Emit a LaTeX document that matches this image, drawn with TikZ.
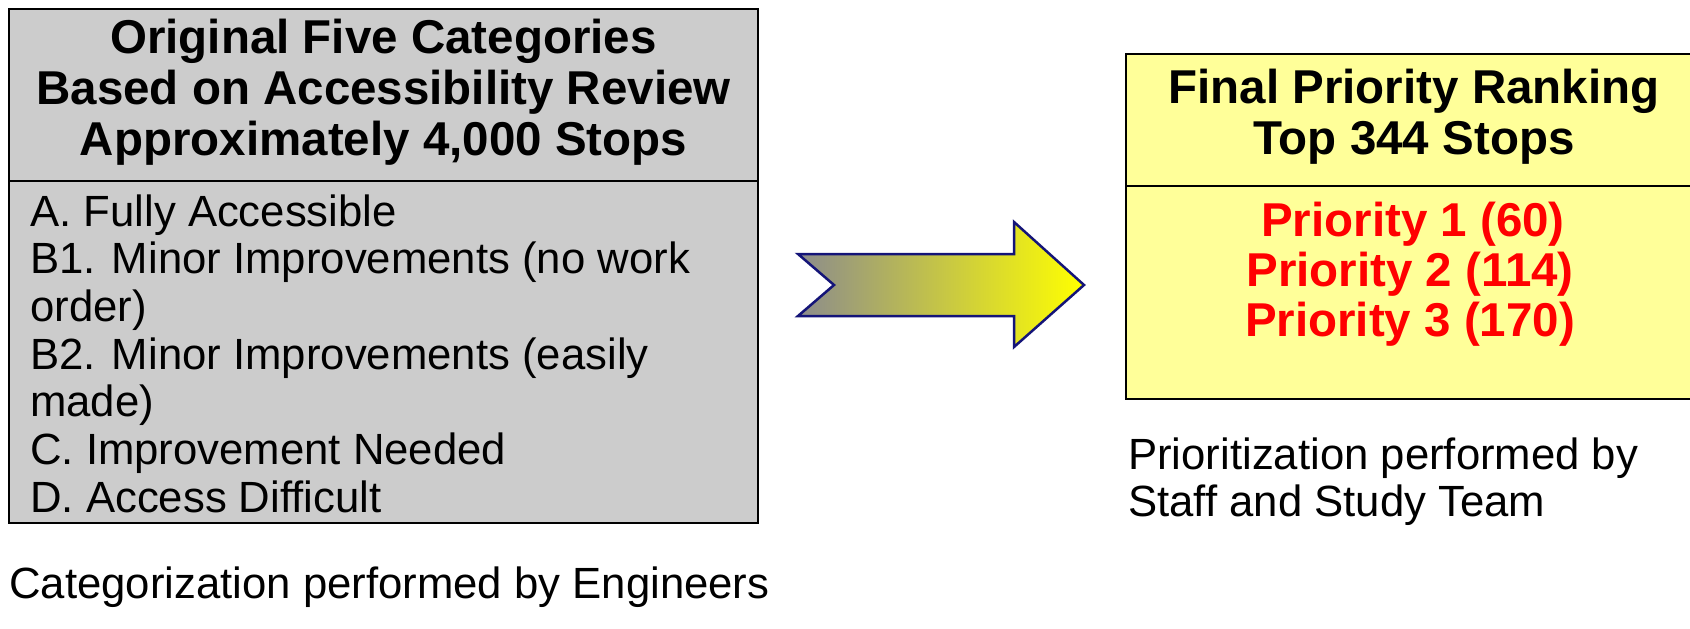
\documentclass[tikz,border=0pt]{standalone}
\usepackage{fontspec}
\setmainfont{Liberation Sans}
\definecolor{boxGray}{RGB}{204,204,204}
\definecolor{boxYellow}{RGB}{255,255,153}
\definecolor{prioRed}{RGB}{255,0,0}
\definecolor{arrowGray}{RGB}{140,140,140}
\definecolor{arrowNavy}{RGB}{20,20,120}
\begin{document}
\begin{tikzpicture}[x=1pt,y=-1pt,
  cell/.style={draw=black,line width=2pt,inner sep=0pt,outer sep=0pt},
  headtxt/.style={font=\fontsize{47.5}{51}\selectfont\bfseries,inner sep=0pt,anchor=base},
  listtxt/.style={font=\fontsize{43.7}{47}\selectfont,inner sep=0pt,anchor=base west},
  priotxt/.style={headtxt,text=prioRed},
]
\useasboundingbox (0,0) rectangle (1690,629);

% table of the five original categories
\node[cell,fill=boxGray,minimum width=749pt,minimum height=172pt] (catHead) at (383.5,95) {};
\node[cell,fill=boxGray,minimum width=749pt,minimum height=342pt] (catBody) at (383.5,352) {};

\node[headtxt] (catT1) at (383.5,53)  {Original Five Categories};
\node[headtxt] (catT2) at (383.5,104) {Based on Accessibility Review};
\node[headtxt] (catT3) at (383.5,155) {Approximately 4,000 Stops};

\node[listtxt] (catA)  at (30,226)   {A. Fully Accessible};
\node[listtxt] (catB1) at (30,273.7) {B1. Minor Improvements (no work};
\node[listtxt] (catB1b) at (30,321.4) {order)};
\node[listtxt] (catB2) at (30,369)   {B2. Minor Improvements (easily};
\node[listtxt] (catB2b) at (30,416.8) {made)};
\node[listtxt] (catC)  at (30,464.5) {C. Improvement Needed};
\node[listtxt] (catD)  at (30,512)   {D. Access Difficult};

\node[listtxt] (catNote) at (9,598) {Categorization performed by Engineers};

% block arrow between the two tables
\path[draw=arrowNavy,line width=2.5pt,line join=miter,
      left color=arrowGray,right color=yellow]
  (798,254) -- (1014,254) -- (1014,222) -- (1084,285) -- (1014,347)
  -- (1014,316) -- (798,316) -- (834,285) -- cycle;

% table of the final ranking
\node[cell,fill=boxYellow,minimum width=576pt,minimum height=132pt] (rankHead) at (1414,120) {};
\node[cell,fill=boxYellow,minimum width=576pt,minimum height=213pt] (rankBody) at (1414,292.5) {};

\node[headtxt] (rankT1) at (1414,103) {Final Priority Ranking};
\node[headtxt] (rankT2) at (1414,154) {Top 344 Stops};

\node[priotxt] (prio1) at (1413,236) {Priority 1 (60)};
\node[priotxt] (prio2) at (1410,286) {Priority 2 (114)};
\node[priotxt] (prio3) at (1410,336) {Priority 3 (170)};

\node[listtxt] (rankNote1) at (1128,469) {Prioritization performed by};
\node[listtxt] (rankNote2) at (1128,516) {Staff and Study Team};
\end{tikzpicture}
\end{document}
